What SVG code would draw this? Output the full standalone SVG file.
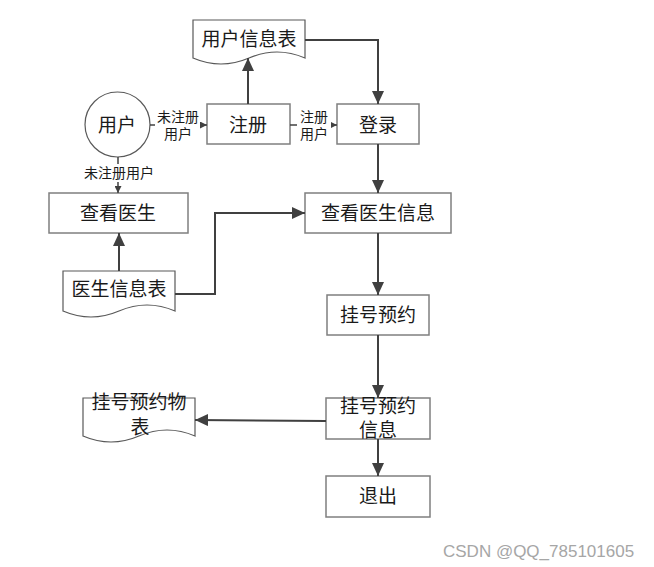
<svg xmlns="http://www.w3.org/2000/svg" width="654" height="567" viewBox="0 0 654 567">
<style>
.box{fill:#fff;stroke:#7f7f7f;stroke-width:1.5}
.doc{fill:#fff;stroke:#595959;stroke-width:1.2}
.t{font-family:"Liberation Serif","Noto Sans CJK SC",serif;font-size:19px;fill:#1a1a1a;text-anchor:middle;dominant-baseline:central}
.s{font-family:"Liberation Sans","Noto Sans CJK SC",sans-serif;font-size:14px;fill:#1a1a1a;text-anchor:middle;dominant-baseline:central}
.c{fill:none;stroke:#404040;stroke-width:2}
.cs{fill:none;stroke:#404040;stroke-width:1.5}
</style>
<defs>
<marker id="big" markerUnits="userSpaceOnUse" markerWidth="13" markerHeight="12" refX="13" refY="6" orient="auto"><path d="M0,0 L13,6 L0,12 z" fill="#404040"/></marker>
<marker id="sm" markerUnits="userSpaceOnUse" markerWidth="7" markerHeight="7" refX="7" refY="3.5" orient="auto"><path d="M0,0 L7,3.5 L0,7 z" fill="#404040"/></marker>
</defs>
<rect width="654" height="567" fill="#fff"/>
<g id="user"><circle cx="117.5" cy="124.5" r="32.5" fill="#fff" stroke="#595959" stroke-width="1.2"/><text class="t" x="117" y="125">用户</text></g>
<g id="userTable"><path class="doc" d="M193,20 H305 V58 Q277,46 249,58 T193,58 Z"/><text class="t" x="249" y="39">用户信息表</text></g>
<g id="register"><rect class="box" x="207" y="104" width="83" height="40"/><text class="t" x="248" y="125">注册</text></g>
<g id="login"><rect class="box" x="337" y="104" width="82" height="40"/><text class="t" x="378" y="125">登录</text></g>
<g id="viewDoctor"><rect class="box" x="49" y="193" width="139" height="40"/><text class="t" x="118" y="213">查看医生</text></g>
<g id="viewDoctorInfo"><rect class="box" x="305" y="193" width="146" height="40"/><text class="t" x="378" y="213">查看医生信息</text></g>
<g id="doctorTable"><path class="doc" d="M63,271 H175 V311 Q147,299 119,311 T63,311 Z"/><text class="t" x="119" y="289">医生信息表</text></g>
<g id="appointment"><rect class="box" x="327" y="295" width="102" height="40"/><text class="t" x="378" y="315">挂号预约</text></g>
<g id="appointmentInfo"><rect class="box" x="326" y="398" width="104" height="41"/><text class="t" x="378" y="406">挂号预约</text><text class="t" x="378" y="430">信息</text></g>
<g id="appointmentTable"><path class="doc" d="M83,398 H195 V436 Q167,424 139,436 T83,436 Z"/><text class="t" x="139" y="402">挂号预约物</text><text class="t" x="140" y="427">表</text></g>
<g id="exit"><rect class="box" x="326" y="476" width="104" height="41"/><text class="t" x="378" y="496">退出</text></g>
<g id="connectors">
<path class="c" d="M248,104 V58" marker-end="url(#big)"/>
<path class="c" d="M305,40 H378 V104" marker-end="url(#big)"/>
<path class="c" d="M378,144 V193" marker-end="url(#big)"/>
<path class="c" d="M119,271 V233" marker-end="url(#big)"/>
<path class="c" d="M175,294 H215 V213 H305" marker-end="url(#big)"/>
<path class="c" d="M378,233 V295" marker-end="url(#big)"/>
<path class="c" d="M378,335 V398" marker-end="url(#big)"/>
<path class="c" d="M326,421 L195,420" marker-end="url(#big)"/>
<path class="c" d="M378,439 V476" marker-end="url(#big)"/>
<path class="cs" d="M150,125 H207" marker-end="url(#sm)"/>
<path class="cs" d="M290,125 H337" marker-end="url(#sm)"/>
<path class="cs" d="M118,157 V193" marker-end="url(#sm)"/>
<rect x="155" y="107" width="45" height="36" fill="#fff"/>
<text class="s" x="178" y="117">未注册</text>
<text class="s" x="178" y="134">用户</text>
<rect x="297" y="107" width="34" height="36" fill="#fff"/>
<text class="s" x="314" y="117">注册</text>
<text class="s" x="314" y="134">用户</text>
<rect x="82" y="164" width="76" height="18" fill="#fff"/>
<text class="s" x="119" y="173">未注册用户</text>
</g>
<text x="443" y="557" font-family="Liberation Sans, Arial, sans-serif" font-size="17" fill="#a6a6a6">CSDN @QQ_785101605</text>
</svg>
